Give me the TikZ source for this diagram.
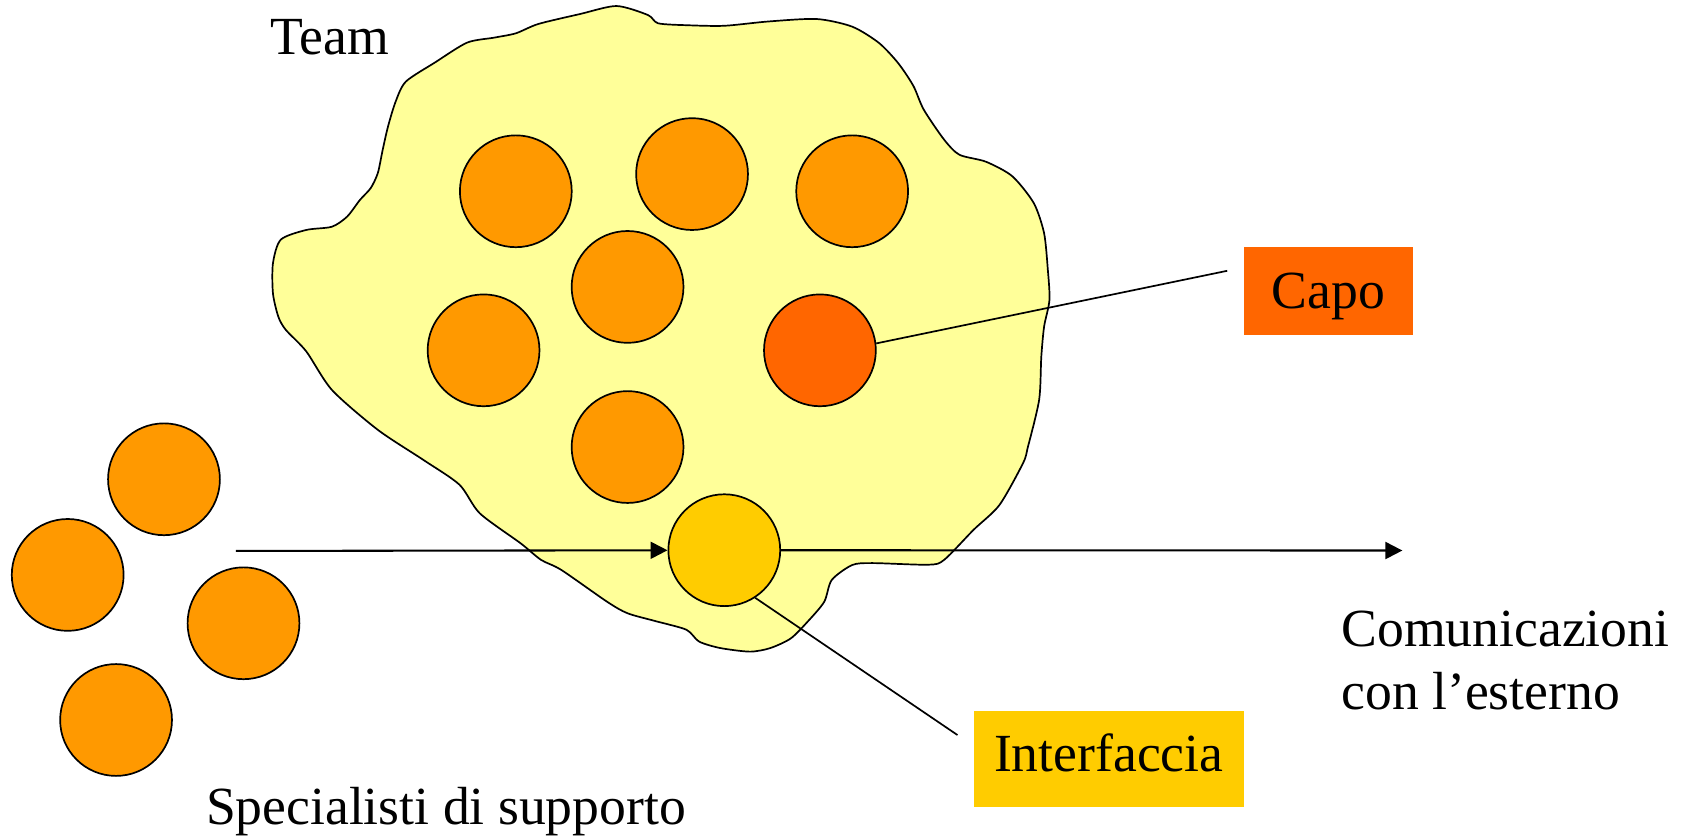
\documentclass[tikz,border=0pt]{standalone}
\usepackage{fontspec}
\setmainfont{Liberation Serif}
\usetikzlibrary{arrows.meta}
\definecolor{blobfill}{HTML}{FFFF99}
\definecolor{orangeC}{HTML}{FF9900}
\definecolor{redC}{HTML}{FF6600}
\definecolor{yellowC}{HTML}{FFCC00}
\tikzset{
  member/.style={circle, draw=black, line width=0.45pt, fill=orangeC, minimum size=1.04cm, inner sep=0pt},
  txt/.style={font=\fontsize{14.2}{17}\selectfont, inner sep=0pt, anchor=base west},
  tagbox/.style={font=\fontsize{14.2}{17}\selectfont, inner sep=0pt, anchor=center},
  flow/.style={-{Triangle[length=4.5pt,width=4.5pt]}, line width=0.55pt},
  pointer/.style={line width=0.45pt},
  teamblob/.style={draw=black, line width=0.45pt, fill=blobfill}
}
\begin{document}
\begin{tikzpicture}[x=0.01cm, y=-0.01cm]
\useasboundingbox (0,0) rectangle (1568,779);

% team blob
\draw[teamblob] plot[smooth cycle, tension=0.45] coordinates {
(573.7,5.6) (603,14) (612.5,21.7) (640,23.5) (674,24) (715,20) (760,17.7)
(793,24.8) (818,40) (836,59) (850,80) (859.6,102) (878.6,130) (892.8,144)
(917.5,150.5) (942,164) (962,189) (971.6,217) (975,250) (976.6,279)
(971.6,304) (969,332) (967,372) (956.6,415.7) (952,431) (930,470) (906,493)
(878.6,521) (864,525.5) (812,524) (793,525.8) (774,539.7) (767,560) (752,578)
(736,594) (717,603) (698,606.4) (670,603) (650.5,597) (638.7,586) (610,578)
(584,570.7) (565,560) (522.4,530.4) (503.5,521) (484.5,505.6) (446.5,477.7)
(427.5,451) (394,428) (351.6,400) (309,363) (285,327) (266,307) (259,294.7)
(254,273) (254,245) (261.3,223) (285,214) (308.8,211) (323,201.6) (335,186)
(345,175) (351.6,161) (356,140) (361,118) (368,95) (377.6,76) (405,58)
(434.6,39.7) (460,35) (480,31) (501,22.3) (540,13)};

% team members
\node[member] (t1) at (480,178) {};
\node[member] (t2) at (644,162) {};
\node[member] (t3) at (793,178) {};
\node[member] (t4) at (584,267) {};
\node[member] (t5) at (450,326) {};
\node[member, fill=redC] (capoC) at (763,326) {};
\node[member] (t7) at (584,416) {};
\node[member, fill=yellowC] (ifC) at (674,512) {};

% support specialists
\node[member] (s1) at (152.6,446) {};
\node[member] (s2) at (63,535) {};
\node[member] (s3) at (226.6,580) {};
\node[member] (s4) at (108,670) {};

% labels
\node[txt] (team) at (251,50.6) {Team};
\node[txt] (spec) at (191,767) {Specialisti di supporto};
\node[txt] (com1) at (1247.6,601.8) {Comunicazioni};
\node[txt] (com2) at (1247.6,660.7) {con l’esterno};
\node[tagbox, fill=redC, minimum width=1.57cm, minimum height=0.817cm,
      text height=0.42cm, text depth=0.10cm] (capo) at (1236,271) {Capo};
\node[tagbox, fill=yellowC, minimum width=2.516cm, minimum height=0.891cm,
      text height=0.36cm, text depth=0.12cm] (interf) at (1031.8,706) {Interfaccia};

% free ends
\coordinate (capoEnd) at (1142,252);
\coordinate (ifEnd) at (891,684);
\coordinate (inStart) at (219.6,512.7);
\coordinate (outEnd) at (1305,512.3);

% connectors
\draw[pointer] (capoC.7) -- (capoEnd);
\draw[pointer] (ifC.-57) -- (ifEnd);
\draw[flow] (inStart) -- (ifC);
\draw[flow] (ifC) -- (outEnd);
\end{tikzpicture}
\end{document}
